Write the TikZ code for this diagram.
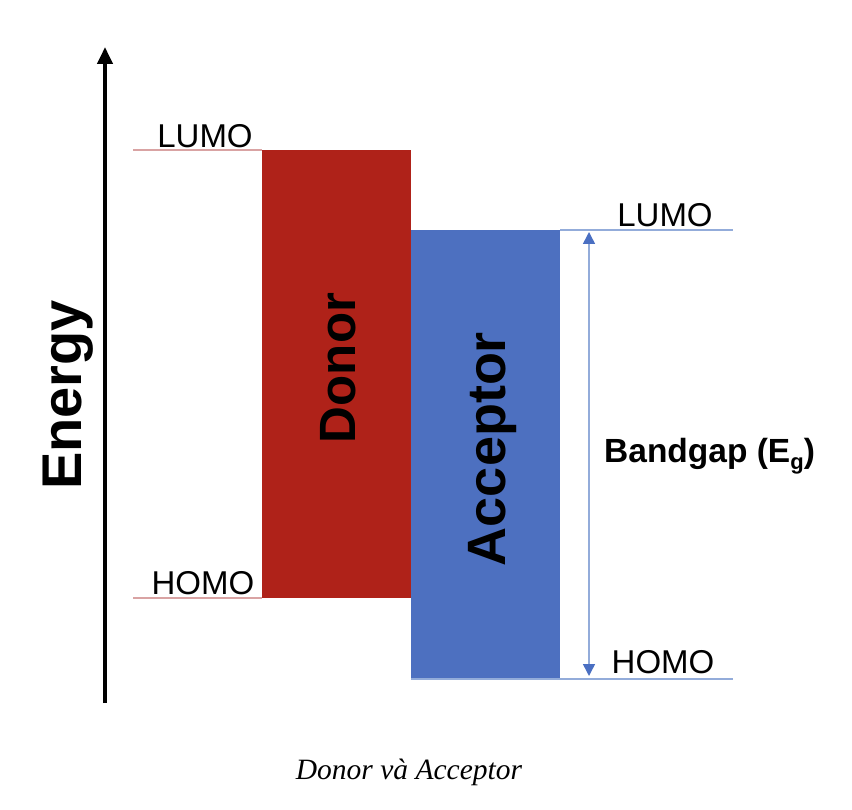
\documentclass[tikz,border=0pt]{standalone}
\usepackage{fontspec}
\setmainfont{Liberation Sans}
\newfontfamily\capfont{Liberation Serif}
\usetikzlibrary{arrows.meta}
\definecolor{donorred}{HTML}{AF2219}
\definecolor{accblue}{HTML}{4D70C0}
\definecolor{pinkline}{HTML}{D9A3A3}
\definecolor{blueline}{HTML}{93ACDA}
\definecolor{tipblue}{HTML}{4A6FC2}
\tikzset{
  lvltext/.style={inner sep=0pt, anchor=base, font=\fontsize{33}{40}\selectfont},
  bigbold/.style={inner sep=0pt, anchor=base, rotate=90, font=\fontsize{52}{60}\selectfont\bfseries},
  dlevel/.style={draw=pinkline, line width=1.2pt},
  alevel/.style={draw=blueline, line width=1.2pt},
}
\begin{document}
\begin{tikzpicture}[x=1pt,y=1pt]
\useasboundingbox (0,0) rectangle (852,-810);
% energy axis
\coordinate (eb) at (105,-703);
\coordinate (et) at (105,-47);
\draw[line width=4pt, -{Triangle[width=15pt,length=17pt]}] (eb) -- (et);
\node[bigbold, font=\fontsize{56}{60}\selectfont\bfseries] (energy) at (81,-395) {Energy};
% donor
\fill[donorred] (262,-150) rectangle (411,-598);
\node[bigbold, font=\fontsize{51}{60}\selectfont\bfseries] (donor) at (355,-368) {Donor};
% acceptor
\fill[accblue] (411,-230) rectangle (560,-679);
\node[bigbold, font=\fontsize{54}{60}\selectfont\bfseries] (acceptor) at (505,-449) {Acceptor};
% donor levels
\coordinate (dl1) at (133,-150); \coordinate (dl2) at (262,-150);
\coordinate (dh1) at (133,-598); \coordinate (dh2) at (262,-598);
\draw[dlevel] (dl1) -- (dl2);
\draw[dlevel] (dh1) -- (dh2);
\node[lvltext] (dlumo) at (205,-148) {LUMO};
\node[lvltext] (dhomo) at (203,-594) {HOMO};
% acceptor levels
\coordinate (al1) at (560,-230); \coordinate (al2) at (733,-230);
\coordinate (ah1) at (411,-679); \coordinate (ah2) at (733,-679);
\draw[alevel] (al1) -- (al2);
\draw[alevel] (ah1) -- (ah2);
\node[lvltext] (alumo) at (665,-227) {LUMO};
\node[lvltext] (ahomo) at (663,-673) {HOMO};
% bandgap arrow
\coordinate (gt) at (589,-232);
\coordinate (gb) at (589,-676);
\draw[draw=blueline, line width=1.5pt, {Triangle[width=12pt,length=12pt,fill=tipblue,color=tipblue]}-{Triangle[width=12pt,length=12pt,fill=tipblue,color=tipblue]}] (gt) -- (gb);
\node[inner sep=0pt, anchor=base west, font=\fontsize{33.5}{38}\selectfont\bfseries] (gap) at (604,-462) {Bandgap (E\raisebox{-7pt}{\fontsize{22}{22}\selectfont g})};
% caption
\node[inner sep=0pt, anchor=base, font=\capfont\itshape\fontsize{29.5}{34}\selectfont] (cap) at (409,-779) {Donor và Acceptor};
\end{tikzpicture}
\end{document}
